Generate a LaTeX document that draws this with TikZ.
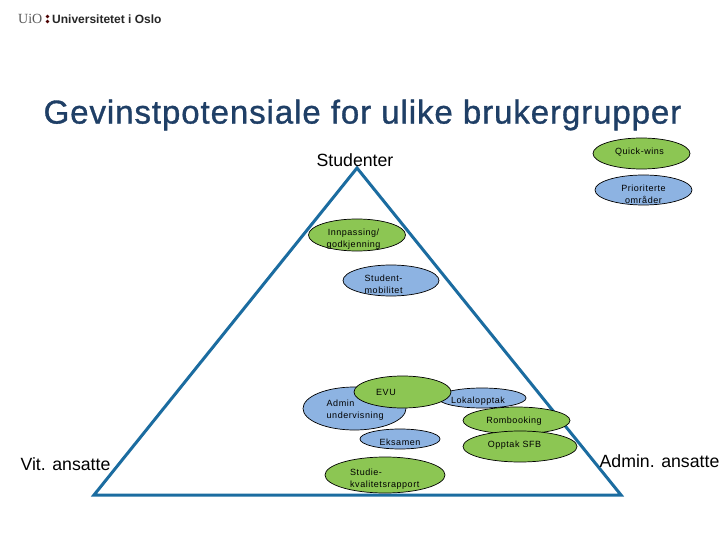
\documentclass[tikz,border=0pt]{standalone}
\usepackage{fontspec}
\setmainfont{Liberation Sans}
\newfontfamily\spaced[LetterSpace=6]{Liberation Sans}
\newfontfamily\titlefont[LetterSpace=2.8,FakeBold=1]{Liberation Sans}
\newfontfamily\logoserif{Liberation Serif}
\usetikzlibrary{shapes.geometric}
\definecolor{tri}{HTML}{1B6CA0}
\definecolor{titleblue}{HTML}{1F3F66}
\definecolor{ogreen}{HTML}{8CC653}
\definecolor{oblue}{HTML}{8DB3E2}
\tikzset{
  oval/.style={draw=black,line width=0.7pt,ellipse,inner sep=0pt},
  green oval/.style={oval,fill=ogreen},
  blue oval/.style={oval,fill=oblue},
  small/.style={font=\spaced\fontsize{9}{12}\selectfont,align=center,inner sep=0pt,text=black},
  big/.style={font=\fontsize{17.7}{20}\selectfont,inner sep=0pt,text=black},
  side/.style={line width=3pt,draw=tri,line join=miter,line cap=round}
}
\begin{document}
\begin{tikzpicture}[x=1pt,y=-1pt]
\useasboundingbox (0,0) rectangle (720,540);
\fill[white] (0,0) rectangle (720,540);
% logo
\node[inner sep=0pt,anchor=west,text=black!65,font=\logoserif\fontsize{14}{16}\selectfont] (logoa) at (18,19) {UiO};
\node[inner sep=0pt,anchor=west,text=black!85,font=\bfseries\fontsize{12}{14}\selectfont] (logob) at (52,19) {Universitetet i Oslo};
\fill[black!70!red] (47.5,16.5) circle (1.8) (47.5,21.5) circle (1.8);
% title
\node[inner sep=0pt,text=titleblue,font=\titlefont\fontsize{33}{38}\selectfont] (title) at (362.5,115) {Gevinstpotensiale for ulike brukergrupper};
% triangle
\coordinate (apex) at (357,168);
\coordinate (bl) at (94,495);
\coordinate (br) at (621,495);
\draw[side] (apex) -- (br) -- (bl) -- cycle;
% corner labels
\node[big] (stud) at (355,160) {Studenter};
\node[big] (vit) at (65.5,464.5) {Vit. ansatte};
\node[big] (adm) at (659.5,461) {Admin. ansatte};
% legend
\node[green oval,minimum width=97pt,minimum height=31pt] (qw) at (641.5,153.5) {};
\node[blue oval,minimum width=97pt,minimum height=30pt] (pri) at (643.5,190) {};
% ovals
\node[green oval,minimum width=97pt,minimum height=32pt] (inn) at (357,235) {};
\node[blue oval,minimum width=96pt,minimum height=31pt] (mob) at (391,280.5) {};
\node[blue oval,minimum width=103pt,minimum height=43pt] (admu) at (354.5,408.5) {};
\node[blue oval,minimum width=88pt,minimum height=20pt] (lok) at (482,398) {};
\node[green oval,minimum width=97pt,minimum height=32pt] (evu) at (402.5,392) {};
\node[blue oval,minimum width=80pt,minimum height=20pt] (eks) at (400,439) {};
\node[green oval,minimum width=107pt,minimum height=27pt] (rom) at (516.5,420.5) {};
\node[green oval,minimum width=114pt,minimum height=31pt] (sfb) at (520,446.5) {};
\node[green oval,minimum width=120pt,minimum height=36pt] (kval) at (385,475) {};
% texts
\node[small] (tqw) at (639.5,152.5) {Quick-wins};
\node[small] (tpri) at (643.5,194.5) {Prioriterte\\områder};
\node[small] (tinn) at (353.5,239.5) {Innpassing/\\godkjenning};
\node[small,align=left,anchor=west] (tmob) at (364.5,284.5) {Student-\\mobilitet};
\node[small] (tevu) at (386,392) {EVU};
\node[small,align=left,anchor=west] (tadm) at (326.5,410.5) {Admin\\undervisning};
\node[small] (tlok) at (478,401) {Lokalopptak};
\node[small] (teks) at (400,442) {Eksamen};
\node[small] (trom) at (514,421) {Rombooking};
\node[small] (tsfb) at (514.5,445.5) {Opptak SFB};
\node[small,align=left,anchor=west] (tkval) at (350,479.5) {Studie-\\kvalitetsrapport};
\end{tikzpicture}
\end{document}
